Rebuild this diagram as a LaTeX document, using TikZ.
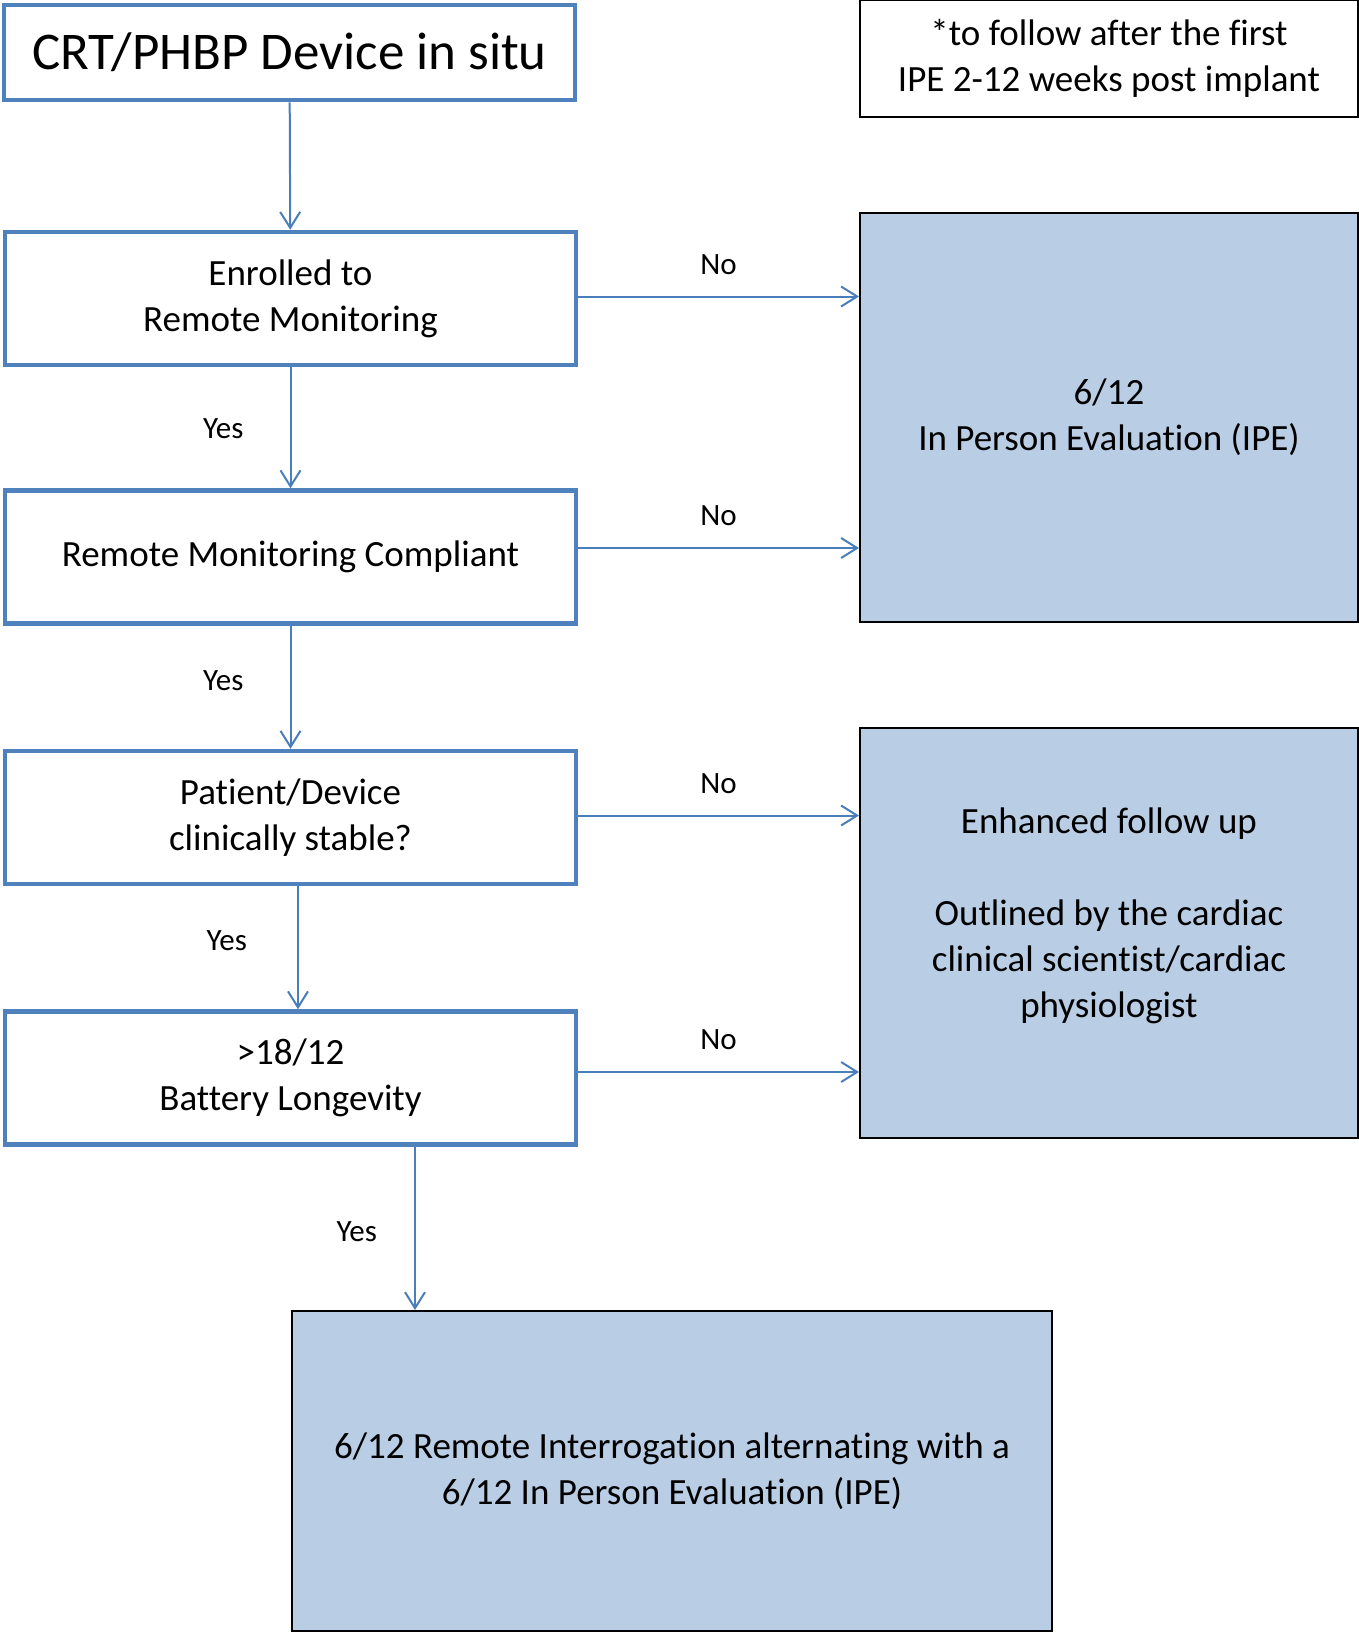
\documentclass[tikz,border=0pt]{standalone}
\usepackage{fontspec}
\setmainfont[Ligatures=NoCommon]{Carlito}
\usetikzlibrary{arrows.meta}

\definecolor{boxblue}{HTML}{4F81BD}
\definecolor{arrblue}{HTML}{4A7EBB}
\definecolor{fillblue}{HTML}{B9CDE5}

\tikzset{
  stepbox/.style={draw=boxblue, line width=4.5pt, fill=white, minimum width=571pt,
    minimum height=133pt, align=center, inner sep=0pt, font=\fontsize{37}{46}\selectfont},
  outcome/.style={draw=black, line width=2pt, fill=fillblue, align=center, inner sep=0pt,
    font=\fontsize{37}{46}\selectfont},
  arr/.style={draw=arrblue, line width=2pt, -{Straight Barb[length=16pt,width=20pt,line width=2pt]}},
  lbl/.style={inner sep=0pt, font=\fontsize{31}{38}\selectfont}
}

\begin{document}
\begin{tikzpicture}[x=1pt, y=-1pt]
  \useasboundingbox (0,0) rectangle (1359,1634);
  % left column
  \node[stepbox, minimum height=95pt, font=\fontsize{53}{64}\selectfont] (dev) at (289.5, 52.5) {CRT/PHBP Device in situ};
  \node[stepbox] (enrol) at (290.5, 298.5) {Enrolled to\\Remote Monitoring};
  \node[stepbox] (comp) at (290.5, 557) {Remote Monitoring Compliant};
  \node[stepbox] (stable) at (290.5, 817.5) {Patient/Device\\clinically stable?};
  \node[stepbox] (batt) at (290.5, 1078) {>18/12\\Battery Longevity};
  % right column
  \node[outcome, fill=white, minimum width=498pt, minimum height=117pt] (note) at (1109, 58) {*to follow after the first\\IPE 2-12 weeks post implant};
  \node[outcome, minimum width=498pt, minimum height=409pt] (ipe) at (1109, 417.5) {6/12\\In Person Evaluation (IPE)};
  \node[outcome, minimum width=498pt, minimum height=410pt] (enh) at (1109, 933) {Enhanced follow up\\ \strut\\Outlined by the cardiac\\clinical scientist/cardiac\\physiologist\\[-20pt] \strut};
  \node[outcome, minimum width=760pt, minimum height=320pt] (final) at (672, 1471) {6/12 Remote Interrogation alternating with a\\6/12 In Person Evaluation (IPE)};

  % yes arrows
  \draw[arr] (dev) -- (enrol);
  \draw[arr] (enrol) -- node[lbl, left=46pt, pos=0.51] {Yes} (comp);
  \draw[arr] (comp) -- node[lbl, left=46pt, pos=0.45] {Yes} (stable);
  \draw[arr] ([xshift=7.5pt]stable.south) -- node[lbl, left=50pt, pos=0.44] {Yes} ([xshift=7.5pt]stable.south |- batt.north);
  \draw[arr] ([xshift=124.5pt]batt.south) -- node[lbl, left=37pt, pos=0.52] {Yes} ([xshift=124.5pt]batt.south |- final.north);

  % no arrows
  \draw[arr] ([yshift=2pt]enrol.east) -- node[lbl, above=21pt] {No} ([yshift=2pt]enrol.east -| ipe.west);
  \draw[arr] ([yshift=9pt]comp.east) -- node[lbl, above=21pt] {No} ([yshift=9pt]comp.east -| ipe.west);
  \draw[arr] ([yshift=2pt]stable.east) -- node[lbl, above=21pt] {No} ([yshift=2pt]stable.east -| enh.west);
  \draw[arr] ([yshift=6pt]batt.east) -- node[lbl, above=21pt] {No} ([yshift=6pt]batt.east -| enh.west);
\end{tikzpicture}
\end{document}
